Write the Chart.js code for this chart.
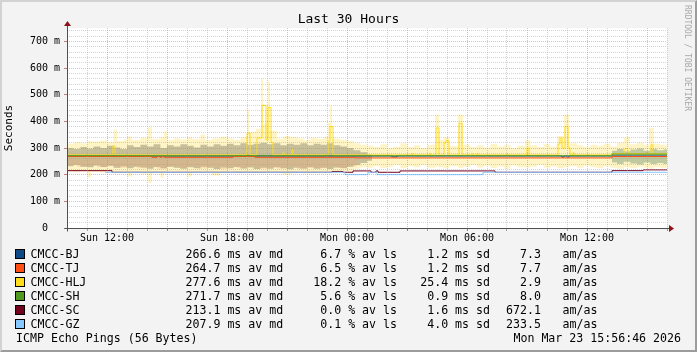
<!DOCTYPE html>
<html>
<head>
<meta charset="utf-8">
<script src="https://cdn.jsdelivr.net/npm/chart.js@4.4.1/dist/chart.umd.min.js"></script>
<style>
  html, body { margin: 0; padding: 0; background: #f3f3f3; }
  #wrap { position: relative; width: 697px; height: 352px; overflow: hidden; font-family: "DejaVu Sans Mono", monospace; color: #000; }
  #frame { position: absolute; left: 0; top: 0; width: 697px; height: 352px; box-sizing: border-box; background: #f3f3f3;
           border-top: 2px solid #d2d2d2; border-left: 2px solid #d2d2d2; border-right: 2px solid #9c9c9c; border-bottom: 2px solid #9c9c9c; }
  #chart { position: absolute; left: 0; top: 0; }
  .t { position: absolute; white-space: pre; line-height: 14px; font-size: 11.6px; }
  .sw { position: absolute; left: 15px; width: 8px; height: 8px; border: 1px solid #000; }
  #title { position: absolute; left: 0; width: 697px; top: 11px; line-height: 16px; font-size: 13px; text-align: center; }
  #side { position: absolute; left: 692px; top: 5px; line-height: 10px; font-size: 8px; color: #a8a8a8; transform: rotate(90deg); transform-origin: 0 0; white-space: pre; }
</style>
</head>
<body>
<div id="wrap">
  <div id="frame"></div>
  <canvas id="chart" width="697" height="352"></canvas>
  <div id="title">Last 30 Hours</div>
  <div id="side">RRDTOOL / TOBI OETIKER</div>
</div>
<script>
// Smokeping multi-host view, last 30 hours. x is hours since Sun 10:00.

const hosts = ['CMCC-BJ', 'CMCC-TJ', 'CMCC-HLJ', 'CMCC-SH', 'CMCC-SC', 'CMCC-GZ'];
const hostColors = ['#0f4a86', '#ff4f14', '#ffdc1e', '#4f9a1e', '#74001e', '#87c8ff'];
const avgMedian = ['266.6', '264.7', '277.6', '271.7', '213.1', '207.9'];
const avgLoss = ['6.7', '6.5', '18.2', '5.6', '0.0', '0.1'];
const avgSd = ['1.2', '1.2', '25.4', '0.9', '1.6', '4.0'];
const amas = ['7.3', '7.7', '2.9', '8.0', '672.1', '233.5'];

const xTickHours = [2, 8, 14, 20, 26];
const xTickLabels = ['Sun 12:00', 'Sun 18:00', 'Mon 00:00', 'Mon 06:00', 'Mon 12:00'];

// median lines: [hour, ms]; each value holds until the next point
const medianBJ = [[0, 270], [16.25, 267], [16.5, 270], [24.75, 266], [24.85, 270], [25.0, 266], [25.1, 270], [30, 270]];
const medianTJ = [[0, 268], [4.25, 265], [4.5, 268], [4.65, 265], [4.75, 268], [4.85, 265], [8.3, 268], [9.4, 265],
  [14.4, 263], [27.25, 268], [30, 268]];
const medianHLJ = [[0, 274], [2.3, 308], [2.4, 274], [9.0, 355], [9.15, 274], [9.5, 338], [9.75, 460], [9.95, 330],
  [10.05, 452], [10.2, 320], [10.3, 274], [10.8, 282], [10.85, 274], [11.25, 293], [11.3, 274], [13.05, 325],
  [13.15, 380], [13.3, 274], [17.25, 279], [17.3, 274], [18.15, 278], [18.2, 274], [18.45, 375], [18.6, 274],
  [18.85, 320], [18.95, 327], [19.1, 274], [19.6, 392], [19.75, 274], [20.25, 278], [20.3, 274], [20.5, 279],
  [20.55, 274], [22.0, 279], [22.05, 274], [23.0, 300], [23.1, 274], [24.55, 315], [24.65, 337], [24.75, 300],
  [24.9, 380], [25.05, 300], [25.15, 274], [25.3, 282], [25.35, 274], [27.25, 279], [27.9, 298], [28.05, 279],
  [29.2, 312], [29.3, 279], [30, 279]];
const medianSH = [[0, 271], [27.25, 277], [30, 277]];
const medianSC = [[0, 215], [2.25, 209], [13.25, 212], [13.8, 209], [14.3, 214], [15.2, 209], [15.45, 214], [15.55, 209],
  [16.65, 214], [21.4, 209], [27.25, 215], [28.8, 218], [30, 218]];
const medianGZ = [[1.9, 209], [13.9, 200], [15.05, 209], [15.5, 200], [20.8, 209], [30, 209]];

// smoke bands: [hour, low ms, high ms]
const smokeHLJ = [
  [0, 212, 316], [0.33, 209, 322], [0.67, 213, 318], [1.0, 190, 326], [1.2, 210, 324], [1.67, 207, 328],
  [2.0, 212, 322], [2.33, 205, 368], [2.5, 210, 326], [2.83, 208, 332], [3.0, 193, 343], [3.25, 210, 330],
  [3.67, 203, 338], [4.05, 170, 378], [4.25, 206, 334], [4.67, 188, 340], [4.85, 209, 362], [5.0, 212, 330],
  [5.33, 206, 336], [5.67, 210, 332], [6.0, 193, 340], [6.25, 208, 334], [6.67, 211, 350], [6.9, 207, 330],
  [7.25, 197, 336], [7.67, 210, 342], [8.0, 212, 336], [8.33, 208, 330], [8.67, 206, 340], [9.0, 207, 445],
  [9.1, 210, 360], [9.45, 206, 372], [9.7, 205, 560], [9.8, 208, 390], [10.05, 207, 548], [10.15, 206, 365],
  [10.5, 210, 335], [10.83, 200, 345], [11.17, 207, 340], [11.5, 212, 336], [11.83, 204, 330], [12.17, 209, 338],
  [12.5, 205, 334], [12.83, 210, 342], [13.05, 206, 395], [13.15, 208, 458], [13.25, 208, 336], [13.67, 212, 330],
  [14.0, 215, 326],
  [14.33, 222, 318], [14.67, 228, 312], [15.0, 226, 308], [15.33, 232, 304], [15.67, 225, 314], [16.0, 230, 300],
  [16.33, 236, 306], [16.67, 224, 318], [17.0, 232, 304], [17.33, 228, 310], [17.67, 235, 300], [18.0, 226, 312],
  [18.4, 230, 425], [18.6, 228, 330], [18.83, 224, 340], [19.1, 232, 308], [19.55, 226, 425], [19.8, 230, 312],
  [20.17, 236, 304], [20.5, 227, 310], [20.83, 233, 302], [21.17, 225, 316], [21.5, 231, 306], [21.83, 222, 312],
  [22.17, 234, 300], [22.5, 228, 308], [22.9, 226, 330], [23.17, 230, 310], [23.5, 236, 304], [23.83, 226, 314],
  [24.17, 231, 306], [24.5, 224, 345], [24.85, 228, 425], [25.1, 232, 318], [25.5, 226, 310], [25.83, 233, 304],
  [26.17, 228, 312], [26.5, 224, 308], [26.83, 232, 316], [27.17, 226, 306], [27.5, 222, 320], [27.85, 228, 340],
  [28.15, 224, 314], [28.5, 230, 320], [28.83, 226, 312], [29.1, 222, 376], [29.35, 228, 316], [29.67, 225, 312],
  [30, 225, 312]];
const smokeMixed = [
  [0, 232, 300], [0.33, 236, 296], [0.67, 230, 304], [1.0, 228, 298], [1.33, 234, 306], [1.67, 229, 300],
  [2.0, 233, 308], [2.33, 226, 302], [2.67, 231, 296], [3.0, 224, 310], [3.33, 230, 304], [3.67, 227, 312],
  [4.0, 222, 306], [4.33, 229, 314], [4.67, 224, 300], [5.0, 230, 310], [5.33, 226, 306], [5.67, 222, 314],
  [6.0, 228, 308], [6.33, 224, 302], [6.67, 230, 312], [7.0, 226, 306], [7.33, 221, 314], [7.67, 227, 308],
  [8.0, 224, 316], [8.33, 229, 310], [8.67, 223, 318], [9.0, 227, 312], [9.33, 221, 316], [9.67, 226, 320],
  [10.0, 222, 314], [10.33, 228, 318], [10.67, 224, 310], [11.0, 220, 316], [11.33, 226, 312], [11.67, 223, 318],
  [12.0, 228, 310], [12.33, 222, 316], [12.67, 226, 312], [13.0, 221, 318], [13.33, 227, 310], [13.67, 224, 306],
  [14.0, 230, 300], [14.33, 236, 292], [14.67, 244, 284], [15.0, 252, 276], [15.25, 252, 276]];
const smokeTJ = [
  [0, 236, 262], [0.5, 230, 260], [1.0, 234, 263], [1.5, 228, 261], [2.0, 232, 262], [2.5, 226, 260],
  [3.0, 230, 263], [3.5, 224, 261], [4.0, 228, 262], [4.5, 222, 260], [5.0, 229, 263], [5.5, 225, 261],
  [6.0, 230, 262], [6.5, 223, 260], [7.0, 227, 263], [7.5, 221, 261], [8.0, 228, 262], [8.5, 224, 260],
  [9.0, 229, 263], [9.5, 222, 261], [10.0, 227, 262], [10.5, 223, 260], [11.0, 229, 263], [11.5, 221, 261],
  [12.0, 226, 262], [12.5, 224, 260], [13.0, 228, 263], [13.5, 225, 261], [14.0, 232, 262], [14.5, 232, 262]];
const smokeSH = [
  [27.25, 246, 290], [27.5, 240, 296], [27.83, 248, 288], [28.17, 242, 294], [28.5, 238, 298], [28.83, 246, 290],
  [29.17, 240, 296], [29.5, 244, 292], [29.83, 240, 294], [30, 240, 294]];

const mono = 'DejaVu Sans Mono';
const datasets = [];

function addSmoke(rows, color, order) {
  const common = { borderWidth: 0, borderColor: 'transparent', pointRadius: 0, stepped: true, order: order };
  datasets.push(Object.assign({ data: rows.map(r => ({ x: r[0], y: r[1] })), fill: false }, common));
  datasets.push(Object.assign({ data: rows.map(r => ({ x: r[0], y: r[2] })), fill: '-1', backgroundColor: color }, common));
}

function addMedian(pairs, color, order) {
  datasets.push({
    data: pairs.map(p => ({ x: p[0], y: p[1] })),
    borderColor: color, borderWidth: 1, pointRadius: 0, stepped: true, fill: false, order: order
  });
}

addSmoke(smokeHLJ, '#fff4c6', 20);
addSmoke(smokeMixed, '#c6bf9a', 19);
addSmoke(smokeTJ, 'rgba(236, 168, 120, 0.32)', 18);
addSmoke(smokeSH, '#c0c9a0', 17);
addMedian(medianBJ, hostColors[0], 6);
addMedian(medianTJ, hostColors[1], 5);
addMedian(medianHLJ, hostColors[2], 4);
addMedian(medianSH, hostColors[3], 3);
addMedian(medianSC, hostColors[4], 2);
addMedian(medianGZ, hostColors[5], 1);

const majorGrid = 'rgba(232, 110, 110, 0.5)';
const minorGrid = 'rgba(160, 160, 160, 0.45)';

const rrdFrame = {
  id: 'rrdFrame',
  beforeDraw(chart) {
    const { ctx, chartArea: a } = chart;
    ctx.save();
    ctx.fillStyle = '#ffffff';
    ctx.fillRect(a.left, a.top, a.right - a.left, a.bottom - a.top);
    ctx.restore();
  },
  afterDraw(chart) {
    const { ctx, chartArea: a } = chart;
    const x0 = Math.round(a.left) + 0.5;
    const y0 = Math.round(a.bottom) + 0.5;
    ctx.save();
    ctx.strokeStyle = '#505050';
    ctx.lineWidth = 1;
    ctx.beginPath();
    ctx.moveTo(x0 - 3, y0); ctx.lineTo(a.right + 3, y0);
    ctx.moveTo(x0, y0 + 3); ctx.lineTo(x0, a.top - 3);
    ctx.stroke();
    ctx.fillStyle = '#8c1414';
    ctx.beginPath();
    ctx.moveTo(x0 - 3.5, a.top - 2); ctx.lineTo(x0 + 3.5, a.top - 2); ctx.lineTo(x0, a.top - 7);
    ctx.closePath(); ctx.fill();
    ctx.beginPath();
    ctx.moveTo(a.right + 2, y0 - 3.5); ctx.lineTo(a.right + 2, y0 + 3.5); ctx.lineTo(a.right + 7, y0);
    ctx.closePath(); ctx.fill();
    ctx.restore();
  }
};

new Chart(document.getElementById('chart'), {
  type: 'line',
  data: { datasets: datasets },
  options: {
    responsive: false,
    animation: false,
    events: [],
    layout: { padding: { left: 0, right: 30, top: 28, bottom: 104 } },
    plugins: { legend: { display: false }, tooltip: { enabled: false } },
    scales: {
      x: {
        type: 'linear', min: 0, max: 30,
        afterFit: s => { s.height = 20; },
        ticks: {
          stepSize: 1, autoSkip: false, maxRotation: 0, padding: 1, color: '#000',
          font: { family: mono, size: 10 },
          callback: v => { const i = xTickHours.indexOf(v); return i < 0 ? '' : xTickLabels[i]; }
        },
        grid: {
          z: 1,
          color: c => (c.tick && c.tick.value % 3 === 2) ? majorGrid : minorGrid,
          tickLength: 3,
          tickColor: c => (c.tick && c.tick.value % 3 === 2) ? '#b07070' : '#a0a0a0'
        },
        border: { display: false, dash: [1, 1] }
      },
      y: {
        type: 'linear', min: 0, max: 750,
        afterFit: s => { s.width = 67; },
        afterBuildTicks: s => { s.ticks = s.ticks.filter(t => t.value % 20 === 0); },
        ticks: {
          stepSize: 20, includeBounds: false, autoSkip: false, padding: 4, color: '#000',
          font: { family: mono, size: 10 },
          callback: v => v % 100 !== 0 ? '' : (v === 0 ? '0  ' : v + ' m')
        },
        grid: {
          z: 1,
          color: c => (c.tick && c.tick.value % 100 === 0) ? majorGrid : minorGrid,
          tickLength: 3,
          tickColor: c => (c.tick && c.tick.value % 100 === 0) ? '#c08080' : 'rgba(0,0,0,0)'
        },
        border: { display: false, dash: [1, 1] },
        title: { display: true, text: 'Seconds', color: '#000', font: { family: mono, size: 11 }, padding: { top: 3, bottom: 0 } }
      }
    }
  },
  plugins: [rrdFrame]
});

// legend rows and footer, as text
const wrap = document.getElementById('wrap');
function put(text, top, left, rightEdge) {
  const d = document.createElement('div');
  d.className = 't';
  d.textContent = text;
  d.style.top = top + 'px';
  if (left != null) {
    d.style.left = left + 'px';
  } else {
    d.style.right = (697 - rightEdge) + 'px';
    d.style.textAlign = 'right';
  }
  wrap.appendChild(d);
}
hosts.forEach((name, i) => {
  const mid = 254 + 14 * i;
  const sw = document.createElement('div');
  sw.className = 'sw';
  sw.style.top = (mid - 5) + 'px';
  sw.style.background = hostColors[i];
  wrap.appendChild(sw);
  put(name, mid - 7, 30.5);
  put(avgMedian[i] + ' ms av md', mid - 7, 185.5);
  put(avgLoss[i] + ' % av ls', mid - 7, null, 397);
  put(avgSd[i] + ' ms sd', mid - 7, null, 490);
  put(amas[i], mid - 7, null, 541);
  put('am/as', mid - 7, 562.5);
});
put('ICMP Echo Pings (56 Bytes)', 331, 16);
put('Mon Mar 23 15:56:46 2026', 331, null, 681);
</script>
</body>
</html>
